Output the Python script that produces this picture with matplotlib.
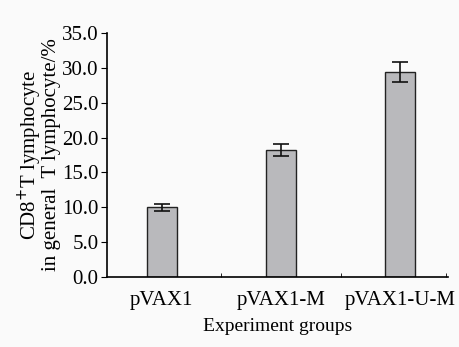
import matplotlib
matplotlib.use("Agg")
import matplotlib.pyplot as plt

groups = ["pVAX1", "pVAX1-M", "pVAX1-U-M"]
values = [10.0, 18.2, 29.4]
errors = [0.5, 0.9, 1.4]
yticks = [0.0, 5.0, 10.0, 15.0, 20.0, 25.0, 30.0, 35.0]

plt.rcParams['font.family'] = ['Liberation Serif', 'DejaVu Serif']

fig = plt.figure(figsize=(4.59, 3.47), dpi=100, facecolor='#fafafa')
ax = fig.add_axes([107/459, 1-277/347, (448-107)/459, (277-33)/347])
ax.set_facecolor('#fafafa')
x = list(range(len(groups)))
ax.bar(x, values, width=0.25, color='#b9b9bc', edgecolor='#222222', linewidth=1.0,
       yerr=errors, capsize=6, error_kw=dict(ecolor='#111111', elinewidth=1.2, capthick=1.2))
ax.set_xlim(-0.46, 2.4)
ax.set_ylim(0, 35)
ax.set_yticks(yticks)
ax.set_yticklabels([f"{v:.1f}" for v in yticks], fontsize=15)
ax.set_xticks(x)
ax.set_xticklabels(groups, fontsize=15)
ax.tick_params(axis='x', length=0, pad=10)
ax.set_xticks([0.5, 1.5, 2.38], minor=True)
ax.tick_params(axis='x', which='minor', direction='in', length=3)
ax.tick_params(axis='y', direction='out', length=4, pad=2)
ax.spines['top'].set_visible(False)
ax.spines['right'].set_visible(False)
ax.spines['left'].set_linewidth(1.2)
ax.spines['bottom'].set_linewidth(1.2)
ax.set_xlabel("Experiment groups", fontsize=14, labelpad=6)
ax.set_ylabel("CD8$^{+}$T lymphocyte\nin general  T lymphocyte/%", fontsize=15, labelpad=1, linespacing=0.85)
fig.savefig("out.png", dpi=100, facecolor=fig.get_facecolor())
